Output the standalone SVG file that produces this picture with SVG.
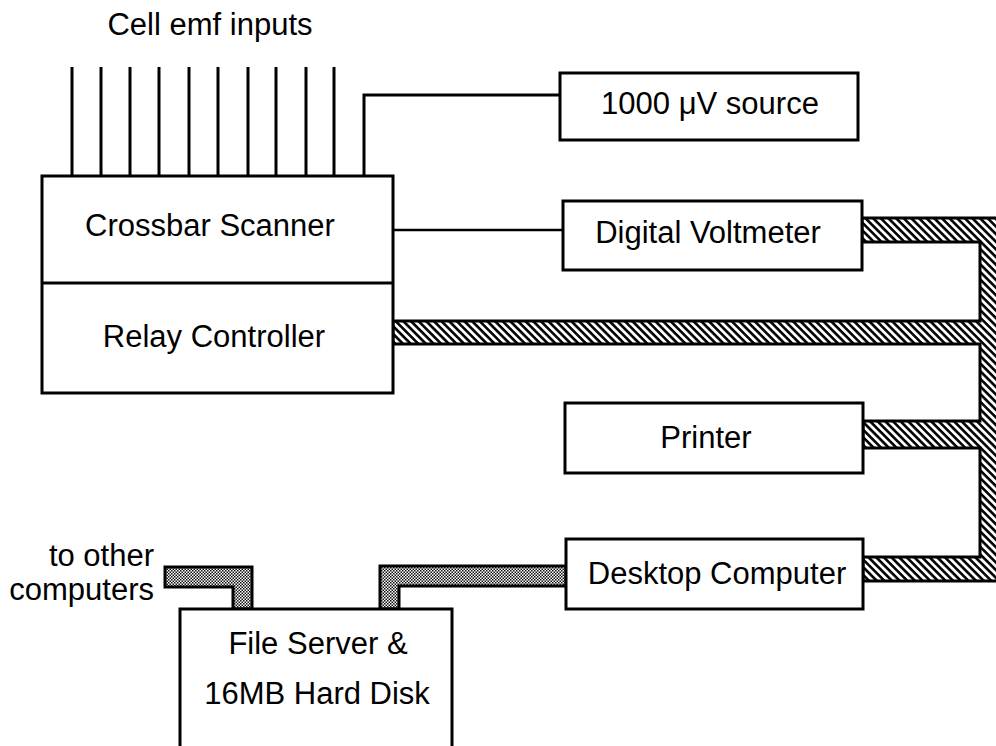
<svg xmlns="http://www.w3.org/2000/svg" width="996" height="746" viewBox="0 0 996 746">
  <defs>
    <pattern id="hatch" patternUnits="userSpaceOnUse" width="5.4" height="5.4" patternTransform="rotate(45)">
      <rect width="5.4" height="5.4" fill="#fff"/>
      <rect x="0" y="0" width="5.4" height="2.6" fill="#000"/>
    </pattern>
    <pattern id="stipple" patternUnits="userSpaceOnUse" width="3" height="3">
      <rect width="3" height="3" fill="#fff"/>
      <rect x="0" y="0" width="1.5" height="1.5" fill="#111"/>
      <rect x="1.5" y="1.5" width="1.5" height="1.5" fill="#111"/>
    </pattern>
    <style>
      .box { fill: #fff; stroke: #000; stroke-width: 3; }
      .wire { fill: none; stroke: #000; stroke-width: 3; }
      .thin { fill: none; stroke: #000; stroke-width: 2.5; }
      .bus { fill: url(#hatch); stroke: #000; stroke-width: 3; stroke-linejoin: miter; }
      .net { fill: url(#stipple); stroke: #000; stroke-width: 3; stroke-linejoin: miter; }
      text { font-family: "Liberation Sans", Arial, Helvetica, sans-serif; font-size: 31px; fill: #000; }
      .c { text-anchor: middle; }
      .r { text-anchor: end; }
    </style>
  </defs>
  <rect width="996" height="746" fill="#fff"/>

  <g id="connectors">
    <!-- cell emf input lines -->
    <path class="wire" d="M72 67V176 M101 67V176 M130 67V176 M159 67V176 M189 67V176 M218 67V176 M248 67V176 M276 67V176 M306 67V176 M334 67V176"/>
    <!-- 1000 uV source line -->
    <path class="wire" d="M364 176V95H560"/>
    <!-- DVM line -->
    <path class="thin" d="M393 230H563"/>
    <!-- hatched instrument bus -->
    <path class="bus" d="M862 218H1010V581H863V557H980V448H863V421H980V344H393V321H980V242H862Z"/>
    <!-- stippled network -->
    <path class="net" d="M165 567H252V609H233V587H165Z"/>
    <path class="net" d="M380 609V566H566V586H399V609Z"/>
  </g>

  <g id="cell-inputs-label">
    <text class="c" x="210" y="35">Cell emf inputs</text>
  </g>

  <g id="crossbar-relay">
    <rect class="box" x="42" y="176" width="351" height="217"/>
    <line class="wire" x1="42" y1="283" x2="393" y2="283"/>
    <text class="c" x="210" y="236">Crossbar Scanner</text>
    <text class="c" x="214" y="347">Relay Controller</text>
  </g>

  <g id="source">
    <rect class="box" x="560" y="73" width="298" height="67"/>
    <text class="c" x="710" y="114">1000 μV source</text>
  </g>

  <g id="dvm">
    <rect class="box" x="563" y="201" width="299" height="69"/>
    <text class="c" x="708" y="243">Digital Voltmeter</text>
  </g>

  <g id="printer">
    <rect class="box" x="565" y="403" width="298" height="70"/>
    <text class="c" x="706" y="448">Printer</text>
  </g>

  <g id="desktop">
    <rect class="box" x="566" y="539" width="297" height="70"/>
    <text class="c" x="717" y="584">Desktop Computer</text>
  </g>

  <g id="file-server">
    <rect class="box" x="180" y="609" width="272" height="150"/>
    <text class="c" x="318" y="654">File Server &amp;</text>
    <text class="c" x="317" y="704">16MB Hard Disk</text>
  </g>

  <g id="other-computers-label">
    <text class="r" x="154" y="566">to other</text>
    <text class="r" x="154" y="600">computers</text>
  </g>
</svg>
